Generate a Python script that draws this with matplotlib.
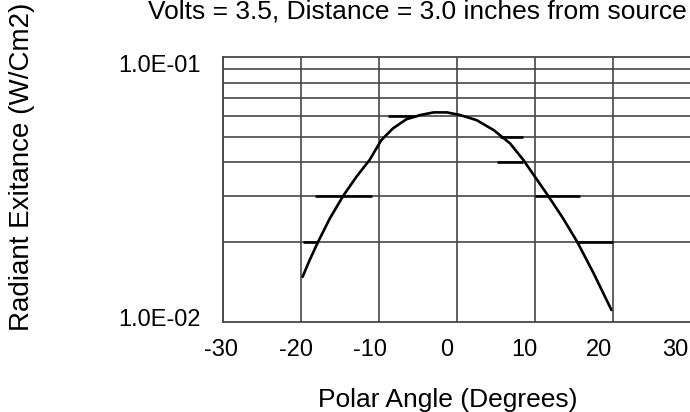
import matplotlib.pyplot as plt
import matplotlib.transforms as mtransforms
from matplotlib.ticker import FixedLocator, NullFormatter

plt.rcParams['font.family'] = ['Liberation Sans', 'DejaVu Sans']
plt.rcParams['axes.unicode_minus'] = False

# curve
angle = [-19.8, -18.9, -17.8, -16.3, -14.6, -12.9, -11.2, -9.7, -8.2, -6.5,
         -4.7, -3.0, -1.3, 0.4, 2.5, 4.7, 6.8, 8.5, 10.0, 11.7, 13.6, 15.4,
         17.5, 19.8]
exitance = [0.0148, 0.0171, 0.0201, 0.0246, 0.0299, 0.0353, 0.0409, 0.0486,
            0.0538, 0.0582, 0.0604, 0.0618, 0.0618, 0.0604, 0.0578, 0.0530,
            0.0472, 0.0409, 0.0353, 0.0299, 0.0246, 0.0201, 0.0153, 0.0111]

# short dark strokes on the grid (hand-drawn marks in the original)
mark_level = [0.06, 0.05, 0.04, 0.03, 0.03, 0.02, 0.02]
mark_start = [-8.8, 5.5, 5.1, -18.2, 10.0, -19.8, 15.3]
mark_end = [-5.2, 8.5, 8.5, -10.9, 15.8, -17.8, 20.0]

x_ticks = [-30, -20, -10, 0, 10, 20, 30]
y_major = [0.01, 0.1]
y_labels = ['1.0E-02', '1.0E-01']
y_minor = [0.02, 0.03, 0.04, 0.05, 0.06, 0.07, 0.08, 0.09]

grid_col = '#474747'

fig = plt.figure(figsize=(6.9, 4.12), dpi=100)
ax = fig.add_axes([223 / 690, 90 / 412, 468 / 690, 265 / 412])

ax.set_yscale('log')
ax.set_xlim(-30, 30)
ax.set_ylim(0.01, 0.1)

ax.xaxis.set_major_locator(FixedLocator(x_ticks))
ax.set_yticks(y_major)
ax.set_yticklabels(y_labels, fontsize=17)
ax.yaxis.set_minor_locator(FixedLocator(y_minor))
ax.yaxis.set_minor_formatter(NullFormatter())

ax.grid(True, which='major', axis='x', color=grid_col, lw=1.2)
ax.grid(True, which='minor', axis='y', color=grid_col, lw=1.2)
for s in ax.spines.values():
    s.set_color(grid_col)
    s.set_linewidth(1.3)
ax.spines['right'].set_visible(False)

ax.tick_params(which='both', length=0)
ax.tick_params(axis='x', labelsize=17, pad=12)
ax.tick_params(axis='y', pad=16)

ax.hlines(mark_level, mark_start, mark_end, colors='black', lw=1.9, zorder=3)
ax.plot(angle, exitance, color='black', lw=1.9, zorder=4,
        solid_joinstyle='round', solid_capstyle='round')

# labels in the scan sit a little off the grid lines
x_shift = [-2, -5, -9, -10, -11, -14, -16]
for lab, dx in zip(ax.get_xticklabels(), x_shift):
    lab.set_transform(lab.get_transform() +
                      mtransforms.ScaledTranslation(dx / 100, 0, fig.dpi_scale_trans))
y_shift = [5, -6]
for lab, dy in zip(ax.get_yticklabels(), y_shift):
    lab.set_transform(lab.get_transform() +
                      mtransforms.ScaledTranslation(0, dy / 100, fig.dpi_scale_trans))

fig.text(417 / 690, 1 - 18 / 412, 'Volts = 3.5, Distance = 3.0 inches from source',
         ha='center', va='baseline', fontsize=19)
fig.text(22 / 690, 1 - 167 / 412, 'Radiant Exitance (W/Cm2)', rotation=90,
         ha='center', va='center', fontsize=20)
fig.text(448 / 690, 1 - 400 / 412, 'Polar Angle (Degrees)',
         ha='center', va='center', fontsize=19)

fig.savefig('out.png', dpi=100)
